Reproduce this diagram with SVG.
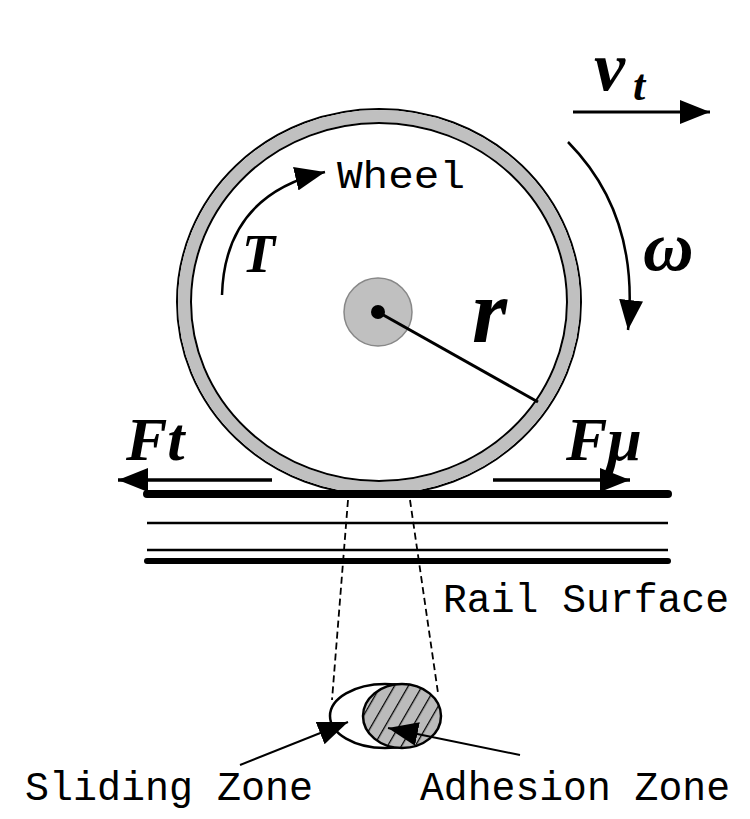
<svg xmlns="http://www.w3.org/2000/svg" width="750" height="819" viewBox="0 0 750 819">
<style>
.m{font-family:"Liberation Serif",serif;font-weight:bold;font-style:italic;fill:#000}
.t{font-family:"Liberation Mono",monospace;fill:#000}
.ln{stroke:#000;fill:none}
</style>
<defs>
<marker id="ab" markerWidth="30" markerHeight="24" refX="30" refY="12" orient="auto" markerUnits="userSpaceOnUse" viewBox="0 0 30 24"><path d="M0,0L30,12L0,24z"/></marker>
<pattern id="hatch" width="12" height="12" patternUnits="userSpaceOnUse" patternTransform="rotate(30)"><rect width="12" height="12" fill="#bbb"/><line x1="0" y1="0" x2="0" y2="12" stroke="#000" stroke-width="2.5"/></pattern>
</defs>
<rect width="750" height="819" fill="#fff"/>
<g id="wheel">
<ellipse cx="379" cy="302" rx="202" ry="193" fill="#fff" stroke="#000" stroke-width="2"/>
<ellipse cx="379" cy="302" rx="195" ry="186" fill="none" stroke="#c0c0c0" stroke-width="12"/>
<ellipse cx="379" cy="302" rx="188" ry="179" fill="none" stroke="#000" stroke-width="2"/>
<circle cx="378" cy="312" r="34" fill="#c0c0c0" stroke="#888" stroke-width="1.5"/>
<circle cx="378" cy="312" r="7" fill="#000"/>
<line x1="378" y1="312" x2="538" y2="402" class="ln" stroke-width="3"/>
<text x="337" y="188" class="t" font-size="38" textLength="128" lengthAdjust="spacingAndGlyphs">Wheel</text>
</g>
<g id="rail">
<line x1="147" y1="494" x2="668" y2="494" stroke="#000" stroke-width="8" stroke-linecap="round"/>
<line x1="147" y1="523" x2="668" y2="523" stroke="#000" stroke-width="2.5"/>
<line x1="147" y1="550" x2="668" y2="550" stroke="#000" stroke-width="2.5"/>
<line x1="147" y1="561" x2="668" y2="561" stroke="#000" stroke-width="6" stroke-linecap="round"/>
<text x="443" y="612" class="t" font-size="40" textLength="286" lengthAdjust="spacingAndGlyphs">Rail Surface</text>
</g>
<g id="contact">
<ellipse cx="385" cy="716" rx="55" ry="32" fill="#fff" stroke="#000" stroke-width="2.5"/>
<ellipse cx="402" cy="716" rx="39" ry="32" fill="url(#hatch)" stroke="#000" stroke-width="2.5"/>
<text x="25" y="800" class="t" font-size="40" textLength="288" lengthAdjust="spacingAndGlyphs">Sliding Zone</text>
<text x="420" y="800" class="t" font-size="40" textLength="310" lengthAdjust="spacingAndGlyphs">Adhesion Zone</text>
</g>
<g id="labels">
<text x="594" y="90" class="m" font-size="70">v</text>
<text x="633" y="100" class="m" font-size="44">t</text>
<text x="242" y="272" class="m" font-size="54">T</text>
<text x="643" y="270" class="m" font-size="70">ω</text>
<text x="472" y="342" class="m" font-size="90">r</text>
<text x="126" y="460" class="m" font-size="62">Ft</text>
<text x="566" y="460" class="m" font-size="62">Fμ</text>
</g>
<g id="connectors">
<line x1="573" y1="112" x2="710" y2="112" class="ln" stroke-width="3" marker-end="url(#ab)"/>
<path d="M568,142 Q640,215 628,330" class="ln" stroke-width="2.5" marker-end="url(#ab)"/>
<path d="M222,295 Q225,195 325,172" class="ln" stroke-width="2.5" marker-end="url(#ab)"/>
<line x1="272" y1="480" x2="118" y2="480" class="ln" stroke-width="3.5" marker-end="url(#ab)"/>
<line x1="493" y1="480" x2="630" y2="480" class="ln" stroke-width="3.5" marker-end="url(#ab)"/>
<line x1="348" y1="500" x2="332" y2="700" class="ln" stroke-width="1.8" stroke-dasharray="7,4"/>
<line x1="410" y1="500" x2="438" y2="693" class="ln" stroke-width="1.8" stroke-dasharray="7,4"/>
<line x1="240" y1="765" x2="348" y2="722" class="ln" stroke-width="2" marker-end="url(#ab)"/>
<line x1="520" y1="755" x2="388" y2="728" class="ln" stroke-width="2" marker-end="url(#ab)"/>
</g>
</svg>
